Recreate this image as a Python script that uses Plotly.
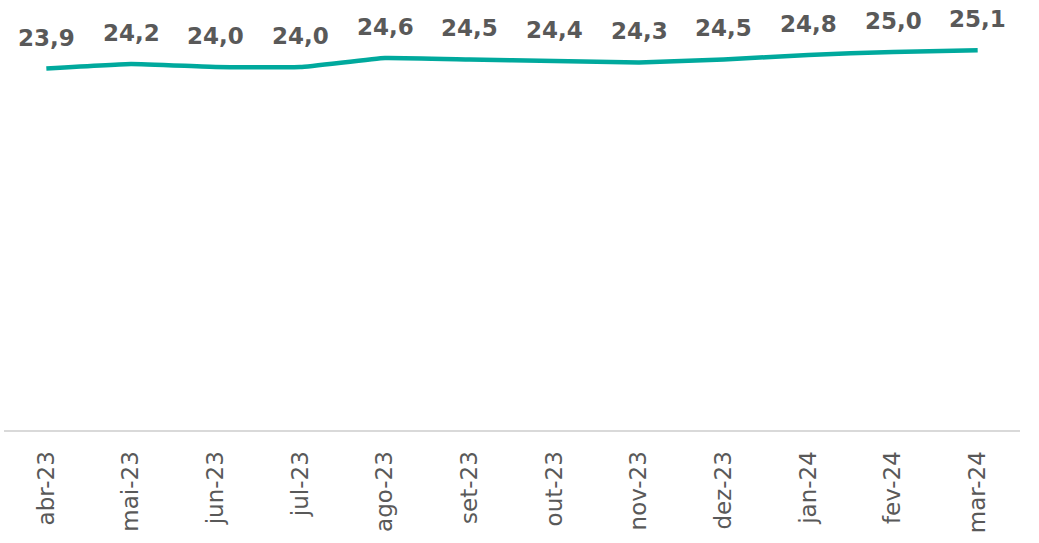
import plotly.graph_objects as go

months = ["abr-23", "mai-23", "jun-23", "jul-23", "ago-23", "set-23",
          "out-23", "nov-23", "dez-23", "jan-24", "fev-24", "mar-24"]
values = [23.9, 24.2, 24.0, 24.0, 24.6, 24.5, 24.4, 24.3, 24.5, 24.8, 25.0, 25.1]
labels = [f"{v:.1f}".replace(".", ",") for v in values]

fig = go.Figure()
fig.add_trace(go.Scatter(
    x=months, y=values, mode="lines",
    line=dict(color="#00A99D", width=4.5, shape="spline", smoothing=0.3),
    hoverinfo="skip", showlegend=False,
))

for m, v, t in zip(months, values, labels):
    fig.add_annotation(
        x=m, y=v, text=f"<b>{t}</b>", showarrow=False,
        yanchor="middle", yshift=31,
        font=dict(family="DejaVu Sans", size=23, color="#595959"),
    )

fig.update_layout(
    width=1039, height=543,
    margin=dict(l=4, r=19, t=5, b=113),
    paper_bgcolor="white", plot_bgcolor="white",
    xaxis=dict(
        type="category", tickangle=-90, showgrid=False, zeroline=False,
        range=[-0.5, len(months) - 0.5],
        showline=True, linecolor="#D9D9D9", linewidth=2,
        ticks="", ticklabelstandoff=10,
        tickfont=dict(family="DejaVu Sans", size=23, color="#595959"),
    ),
    yaxis=dict(range=[0, 28.1], visible=False, showgrid=False, zeroline=False),
)

fig.write_html("out.html", config={"displayModeBar": False},
               post_script="document.body.style.margin='0';document.body.style.overflow='hidden';")
